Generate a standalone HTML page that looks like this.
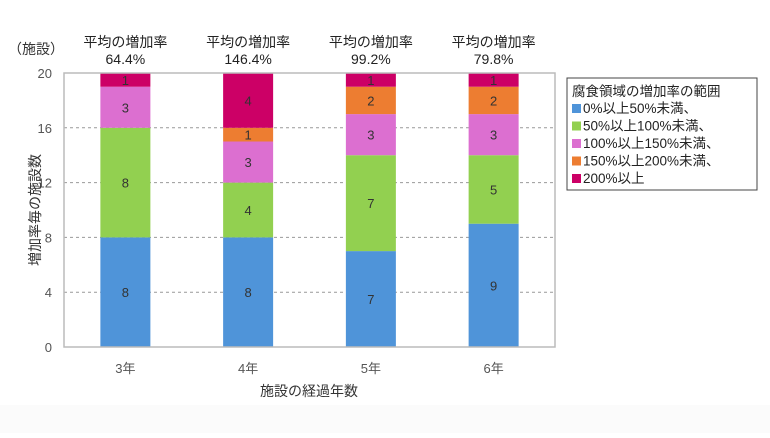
<!DOCTYPE html>
<html><head><meta charset="utf-8"><style>
body{margin:0;background:#fff;width:770px;height:433px;overflow:hidden;font-family:"Liberation Sans","Noto Sans CJK JP",sans-serif}
svg text{font-family:"Liberation Sans","Noto Sans CJK JP",sans-serif}
</style></head><body>
<svg width="770" height="433">
<rect x="0" y="405" width="770" height="28" fill="#fbfbfb"/>
<g id="grid"></g>
<g id="bars"></g>
<g id="axes"></g>
<text x="8" y="54" font-size="14" fill="#333">（施設）</text>
<text transform="translate(40,210) rotate(-90)" text-anchor="middle" font-size="14" fill="#333">増加率毎の施設数</text>
<text x="309" y="396" text-anchor="middle" font-size="14" fill="#333">施設の経過年数</text>
<g>
<rect x="567" y="78" width="190" height="112" fill="#fff" stroke="#444" stroke-width="1"/>
<text x="572" y="96" font-size="13.5" fill="#222">腐食領域の増加率の範囲</text>
<g id="legend"></g>
</g>
</svg>
<script>
const categories=["3年","4年","5年","6年"];
const avgLabels=["64.4%","146.4%","99.2%","79.8%"];
const seriesNames=["0%以上50%未満、","50%以上100%未満、","100%以上150%未満、","150%以上200%未満、","200%以上"];
const s0=[8,8,7,9];
const s1=[8,4,7,5];
const s2=[3,3,3,3];
const s3=[0,1,2,2];
const s4=[1,4,1,1];
const yTicks=[0,4,8,12,16,20];
const series=[s0,s1,s2,s3,s4];
const colors=["#4f94d9","#92d050","#dc6fd0","#ed7d31","#cc0066"];
const NS="http://www.w3.org/2000/svg";
const L=64,R=555,T=73,B=347,ymax=20;
const y=v=>B-(B-T)*v/ymax;
const band=(R-L)/categories.length;
const x=i=>L+band*(i+0.5);
const bw=50;
function mk(tag,attrs,parent,txt){const e=document.createElementNS(NS,tag);for(const k in attrs)e.setAttribute(k,attrs[k]);if(txt!==undefined)e.textContent=txt;document.getElementById(parent).appendChild(e);return e;}
yTicks.forEach(t=>{
 if(t>0&&t<ymax){const g=mk('line',{x1:L,x2:R,y1:y(t),y2:y(t),stroke:'#999','stroke-dasharray':'3,3'},'grid');
 
 }
 const tl=mk('text',{x:52,y:y(t)+5,'text-anchor':'end','font-size':13,fill:'#555'},'axes',t);
 
 
});
const fr=mk('rect',{x:L,y:T,width:R-L,height:B-T,fill:'none',stroke:'#bbb','stroke-width':1.5},'axes');


categories.forEach((c,i)=>{
 let cum=0;
 series.forEach((s,j)=>{
  const v=s[i];if(!v)return;
  const r=mk('rect',{x:x(i)-bw/2,y:y(cum+v),width:bw,height:y(cum)-y(cum+v),fill:colors[j]},'bars');
  
  
  const tv=mk('text',{x:x(i),y:(y(cum)+y(cum+v))/2+5,'text-anchor':'middle','font-size':13,fill:'#333'},'bars',v);
  
  
  cum+=v;
 });
 const xl=mk('text',{x:x(i),y:373,'text-anchor':'middle','font-size':13,fill:'#555'},'axes',c);
 
 
 const a1=mk('text',{x:x(i),y:47,'text-anchor':'middle','font-size':14,fill:'#222'},'axes','平均の増加率');
 
 
 const a2=mk('text',{x:x(i),y:64,'text-anchor':'middle','font-size':14,fill:'#222'},'axes',avgLabels[i]);
 
 
});
seriesNames.forEach((n,j)=>{
 const yy=113+j*17.5;
 const sw=mk('rect',{x:572,y:yy-9,width:9,height:9,fill:colors[j]},'legend');
 
 
 const t=mk('text',{x:583,y:yy,'font-size':13.5,fill:'#222'},'legend',n);
 
 
});
</script>
</body></html>
